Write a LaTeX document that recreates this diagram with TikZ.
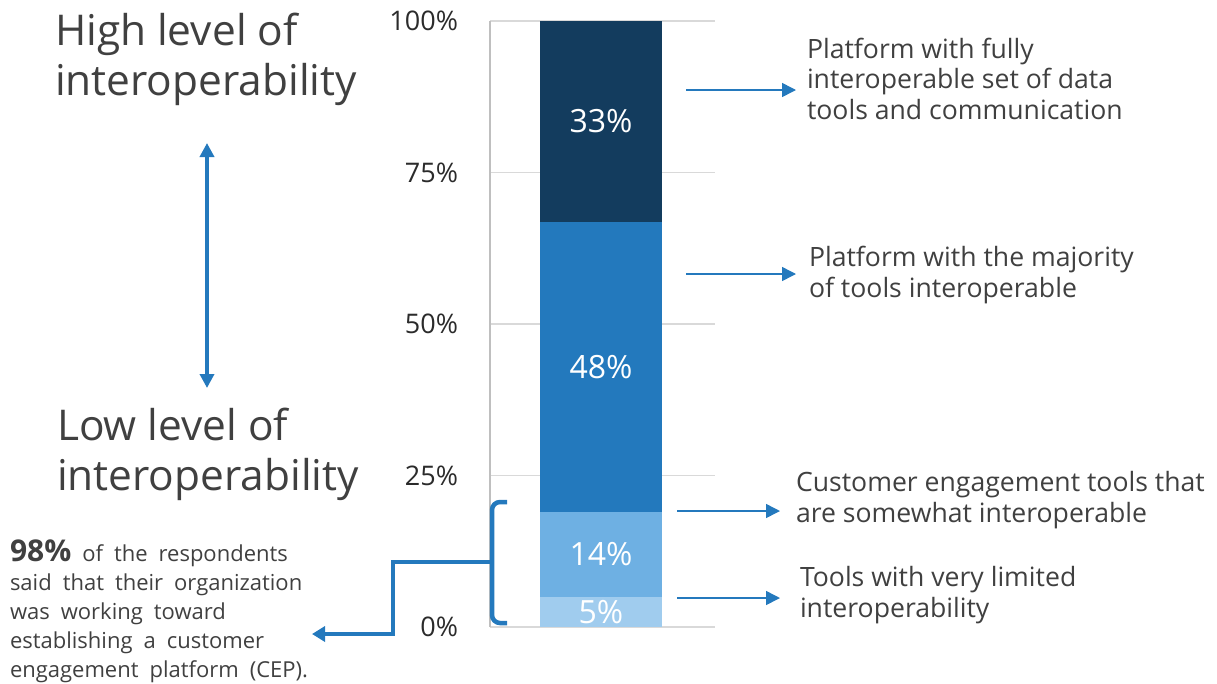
\documentclass[tikz,border=0pt]{standalone}
\usepackage{fontspec}
\setmainfont{Open Sans}
\usepackage{tikz}
\usetikzlibrary{arrows.meta}

\definecolor{inkgray}{HTML}{404040}
\definecolor{tickgray}{HTML}{2B2B2B}
\definecolor{gridgray}{HTML}{D9D9D9}
\definecolor{axisgray}{HTML}{BFBFBF}
\definecolor{barnavy}{HTML}{133C5E}
\definecolor{barblue}{HTML}{2379BD}
\definecolor{barsky}{HTML}{6EB0E3}
\definecolor{barpale}{HTML}{A0CCEE}
\definecolor{linkblue}{HTML}{2479BD}

\begin{document}
\begin{tikzpicture}[x=1pt,y=-1pt,>={Triangle[length=14pt,width=14pt]}]
\tikzstyle{every node}=[inner sep=0pt,outer sep=0pt]
\tikzstyle{level}=[text=inkgray,align=left,anchor=base west,font=\fontsize{42.4}{50}\selectfont]
\tikzstyle{tick}=[text=tickgray,anchor=base east,font=\fontsize{27}{32}\selectfont]
\tikzstyle{seg}=[minimum width=122pt,text=white,font=\fontsize{32}{38}\selectfont]
\tikzstyle{desc}=[text=inkgray,align=left,anchor=base west,font=\fontsize{26.6}{30.5}\selectfont]
\tikzstyle{pointer}=[->,draw=linkblue,line width=1.5pt]
\tikzstyle{thick link}=[draw=linkblue,line width=4.5pt]
\useasboundingbox (0,0) rectangle (1217,683);
% axis and grid
\foreach \p in {0,25,50,75,100}{
  \draw[gridgray,line width=1.2pt] (490,627-6.06*\p) -- (715,627-6.06*\p);
  \node[tick] (t\p) at (458,636.5-6.06*\p) {\p\%};
}
\draw[axisgray,line width=1.5pt] (490,21) -- (490,627);
% stacked bar
\node[seg,fill=barpale,minimum height=30pt] (s5) at (601,612) {5\%};
\node[seg,fill=barsky,minimum height=85pt] (s14) at (601,554.5) {14\%};
\node[seg,fill=barblue,minimum height=290pt] (s48) at (601,367) {48\%};
\node[seg,fill=barnavy,minimum height=201pt] (s33) at (601,121.5) {33\%};
% descriptions (placed at the baseline of their last line)
\node[desc] (d33) at (807,119) {Platform with fully\\interoperable set of data\\tools and communication};
\node[desc] (d48) at (809,297) {Platform with the majority\\of tools interoperable};
\node[desc] (d14) at (796,522) {Customer engagement tools that\\are somewhat interoperable};
\node[desc] (d5) at (800,617) {Tools with very limited\\interoperability};
\coordinate (p33) at (686,90);
\coordinate (p48) at (686,274);
\coordinate (p14) at (677,511);
\coordinate (p5) at (677,598);
\draw[pointer,shorten >=11pt] (p33) -- (p33 -| d33.west);
\draw[pointer,shorten >=13pt] (p48) -- (p48 -| d48.west);
\draw[pointer,shorten >=16pt] (p14) -- (p14 -| d14.west);
\draw[pointer,shorten >=20pt] (p5) -- (p5 -| d5.west);
% scale on the left
\node[level] (high) at (55,95) {High level of\\interoperability};
\node[level] (low) at (57,490) {Low level of\\interoperability};
\coordinate (up) at (207,143);
\coordinate (dn) at (207,388);
\draw[<->,draw=linkblue,line width=4pt] (up) -- (dn);
% bracket and note
\draw[thick link,rounded corners=8pt] (507,502) -- (492,502) -- (492,623) -- (507,623);
\coordinate (brk) at (492,562);
\coordinate (ceptip) at (312,634);
\draw[thick link,->,>={Triangle[length=13pt,width=15pt]}] (brk) -- (393,562) |- (ceptip);
\node[desc,font={\fontsize{22}{29}\selectfont\spaceskip=0.5em\relax}] (cep) at (10,677)
  {{\bfseries\fontsize{30}{29}\selectfont 98\%} of the respondents\\said that their organization\\was working toward\\establishing a customer\\engagement platform (CEP).};
\end{tikzpicture}
\end{document}
